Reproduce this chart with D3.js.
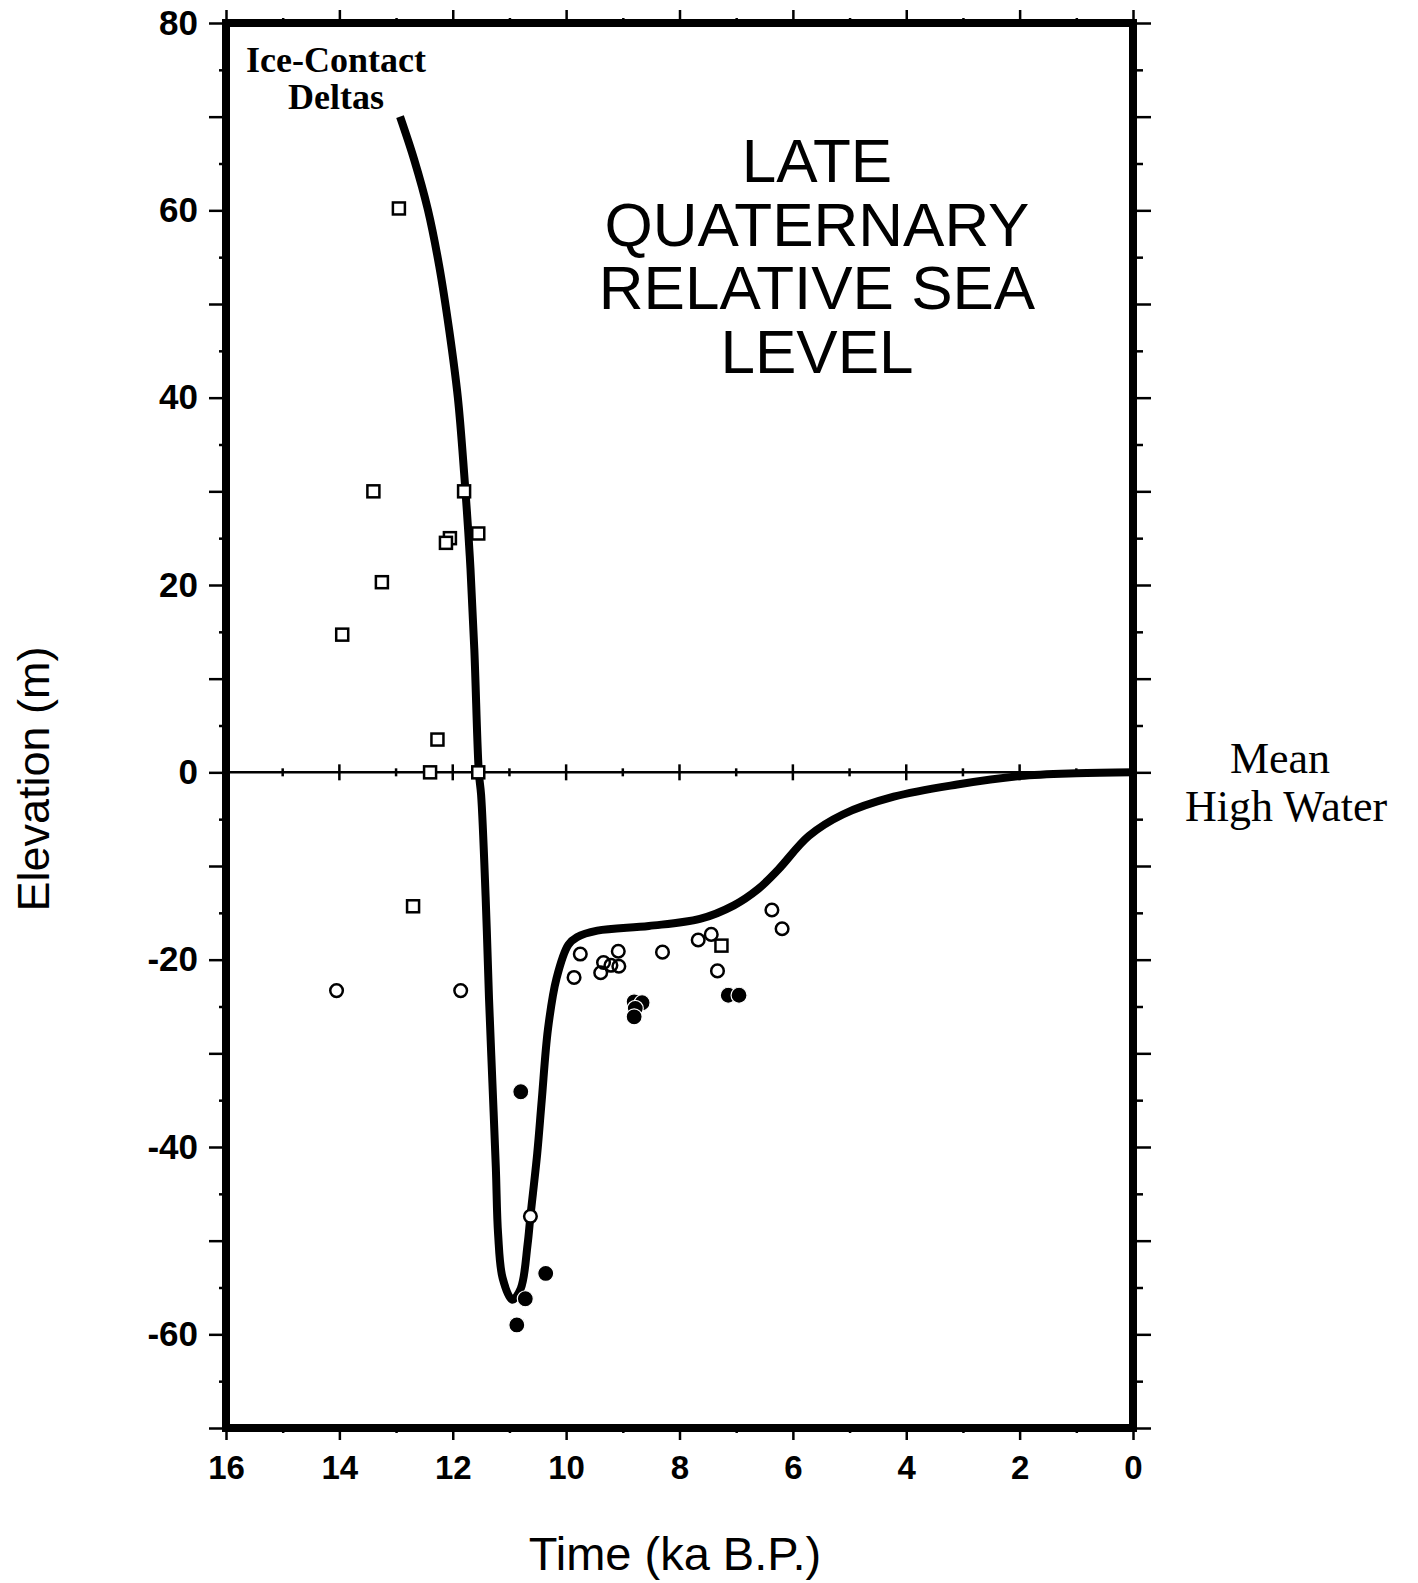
<!DOCTYPE html>
<html>
<head>
<meta charset="utf-8">
<script src="https://cdn.jsdelivr.net/npm/d3@7"></script>
<style>
  body { margin: 0; background: #fff; }
  .tick line { stroke: #000; stroke-width: 2.5; }
  .tick text { font-family: "Liberation Sans", Arial, sans-serif; font-weight: bold; fill: #000; }
  .xax .tick text { font-size: 33px; }
  .yax .tick text { font-size: 35px; }
</style>
</head>
<body>
<div id="chart"></div>
<script>
// sea level curve (ka B.P., m)
var curveTime = [12.93, 12.68, 12.44, 12.24, 12.06, 11.91, 11.80, 11.70, 11.62, 11.54, 11.50, 11.42, 11.36, 11.30, 11.24, 11.20, 11.12, 10.95, 10.80, 10.68, 10.63, 10.51, 10.43, 10.32, 10.17, 9.96, 9.81, 9.45, 8.54, 7.64, 7.04, 6.62, 6.26, 5.72, 5.12, 4.22, 3.10, 2.00, 1.00, 0.00];
var curveElev = [70.0, 65.4, 60.1, 54.1, 47.1, 40.0, 32.0, 23.1, 13.2, 0.0, -2.4, -13.3, -24.2, -33.2, -42.2, -49.3, -54.0, -56.3, -55.1, -50.4, -47.4, -40.7, -35.0, -27.4, -22.0, -18.4, -17.6, -16.9, -16.4, -15.65, -14.2, -12.5, -10.4, -6.8, -4.5, -2.6, -1.3, -0.4, -0.1, 0.0];

// open squares
var squareTime = [12.95, 13.4, 11.8, 11.55, 12.05, 12.12, 13.25, 13.95, 12.27, 12.4, 11.55, 12.7, 7.26];
var squareElev = [60.2, 30.0, 30.0, 25.5, 25.0, 24.5, 20.3, 14.7, 3.5, 0.0, 0.0, -14.3, -18.5];

// open circles
var openTime = [14.05, 11.86, 10.63, 9.75, 9.86, 9.08, 9.34, 9.39, 9.21, 9.07, 8.30, 7.67, 7.44, 7.33, 6.37, 6.19];
var openElev = [-23.3, -23.3, -47.4, -19.4, -21.9, -19.1, -20.3, -21.4, -20.6, -20.7, -19.2, -17.9, -17.3, -21.2, -14.7, -16.7];

// filled circles
var filledTime = [10.87, 10.72, 10.36, 10.80, 8.80, 8.66, 8.78, 8.80, 7.14, 6.95];
var filledElev = [-59.0, -56.2, -53.5, -34.1, -24.5, -24.6, -25.2, -26.1, -23.8, -23.8];

// ticks
var xMajor = [16, 14, 12, 10, 8, 6, 4, 2, 0];
var xMinor = [15, 13, 11, 9, 7, 5, 3, 1];
var yLabels = [80, 60, 40, 20, 0, -20, -40, -60];
var yMajor = [80, 70, 60, 50, 40, 30, 20, 10, 0, -10, -20, -30, -40, -50, -60, -70];
var yMinor = [75, 65, 55, 45, 35, 25, 15, 5, -5, -15, -25, -35, -45, -55, -65];

var titleLines = ["LATE", "QUATERNARY", "RELATIVE SEA", "LEVEL"];

var W = 1418, H = 1583;
var plotLeft = 226, plotRight = 1133, plotTop = 23, plotBottom = 1428;

var svg = d3.select("#chart").append("svg")
  .attr("width", W)
  .attr("height", H);

var x = d3.scaleLinear().domain([16, 0]).range([plotLeft, plotRight]);
var y = d3.scaleLinear().domain([-70, 80]).range([plotBottom, plotTop]);

function noDomain(g) {
  g.select(".domain").remove();
}

// bottom ticks + labels
svg.append("g")
  .attr("class", "xax")
  .attr("transform", "translate(0," + plotBottom + ")")
  .call(d3.axisBottom(x).tickValues(xMajor).tickSize(12).tickPadding(16).tickFormat(d3.format("d")))
  .call(noDomain);
svg.append("g")
  .attr("transform", "translate(0," + plotBottom + ")")
  .call(d3.axisBottom(x).tickValues(xMinor).tickSize(5).tickFormat(""))
  .call(noDomain);

// top ticks
svg.append("g")
  .attr("transform", "translate(0," + plotTop + ")")
  .call(d3.axisTop(x).tickValues(xMajor).tickSize(13).tickFormat(""))
  .call(noDomain);
svg.append("g")
  .attr("transform", "translate(0," + plotTop + ")")
  .call(d3.axisTop(x).tickValues(xMinor).tickSize(5).tickFormat(""))
  .call(noDomain);

// left ticks + labels
svg.append("g")
  .attr("class", "yax")
  .attr("transform", "translate(" + plotLeft + ",0)")
  .call(d3.axisLeft(y).tickValues(yMajor).tickSize(17).tickPadding(11).tickFormat(function(d) {
    return yLabels.indexOf(d) >= 0 ? d : "";
  }))
  .call(noDomain);
svg.append("g")
  .attr("transform", "translate(" + plotLeft + ",0)")
  .call(d3.axisLeft(y).tickValues(yMinor).tickSize(7).tickFormat(""))
  .call(noDomain);

// right ticks
svg.append("g")
  .attr("transform", "translate(" + plotRight + ",0)")
  .call(d3.axisRight(y).tickValues(yMajor).tickSize(18).tickFormat(""))
  .call(noDomain);
svg.append("g")
  .attr("transform", "translate(" + plotRight + ",0)")
  .call(d3.axisRight(y).tickValues(yMinor).tickSize(10).tickFormat(""))
  .call(noDomain);

// zero line with its own small crossing ticks
svg.append("line")
  .attr("x1", plotLeft).attr("x2", plotRight)
  .attr("y1", y(0)).attr("y2", y(0))
  .attr("stroke", "#000")
  .attr("stroke-width", 2.5);
svg.append("g").selectAll("line")
  .data(xMajor.concat(xMinor))
  .enter().append("line")
  .attr("x1", function(d) { return x(d); })
  .attr("x2", function(d) { return x(d); })
  .attr("y1", function(d) { return y(0) - (d % 2 == 0 ? 8 : 4); })
  .attr("y2", function(d) { return y(0) + (d % 2 == 0 ? 8 : 4); })
  .attr("stroke", "#000")
  .attr("stroke-width", 2.5);

// the curve
var curvePts = curveTime.map(function(t, i) { return [t, curveElev[i]]; });
var line = d3.line()
  .x(function(d) { return x(d[0]); })
  .y(function(d) { return y(d[1]); })
  .curve(d3.curveCatmullRom.alpha(0.5));

svg.append("path")
  .datum(curvePts)
  .attr("d", line)
  .attr("fill", "none")
  .attr("stroke", "#000")
  .attr("stroke-width", 8);

// frame
svg.append("rect")
  .attr("x", plotLeft).attr("y", plotTop)
  .attr("width", plotRight - plotLeft).attr("height", plotBottom - plotTop)
  .attr("fill", "none")
  .attr("stroke", "#000")
  .attr("stroke-width", 8);

// squares
var sq = 12;
svg.append("g").selectAll("rect")
  .data(squareTime)
  .enter().append("rect")
  .attr("x", function(d) { return x(d) - sq / 2; })
  .attr("y", function(d, i) { return y(squareElev[i]) - sq / 2; })
  .attr("width", sq).attr("height", sq)
  .attr("fill", "#fff")
  .attr("stroke", "#000")
  .attr("stroke-width", 2.5);

// open circles: white fill first, then the rings, so overlapping rings stay visible
var openG = svg.append("g");
openG.selectAll("circle.fill")
  .data(openTime)
  .enter().append("circle")
  .attr("class", "fill")
  .attr("cx", function(d) { return x(d); })
  .attr("cy", function(d, i) { return y(openElev[i]); })
  .attr("r", 6.3)
  .attr("fill", "#fff");
openG.selectAll("circle.ring")
  .data(openTime)
  .enter().append("circle")
  .attr("class", "ring")
  .attr("cx", function(d) { return x(d); })
  .attr("cy", function(d, i) { return y(openElev[i]); })
  .attr("r", 6.3)
  .attr("fill", "none")
  .attr("stroke", "#000")
  .attr("stroke-width", 2.5);

// filled circles
svg.append("g").selectAll("circle")
  .data(filledTime)
  .enter().append("circle")
  .attr("cx", function(d) { return x(d); })
  .attr("cy", function(d, i) { return y(filledElev[i]); })
  .attr("r", 8)
  .attr("fill", "#000")
  .attr("stroke", "#fff")
  .attr("stroke-width", 1.2);

// title
svg.append("text")
  .attr("text-anchor", "middle")
  .style("font-family", "'Liberation Sans', Arial, sans-serif")
  .style("font-size", "62px")
  .selectAll("tspan")
  .data(titleLines)
  .enter().append("tspan")
  .attr("x", 817)
  .attr("y", function(d, i) { return 182 + i * 63.6; })
  .text(function(d) { return d; });

// Ice-Contact Deltas
svg.append("text")
  .attr("text-anchor", "middle")
  .style("font-family", "'Liberation Serif', 'Times New Roman', serif")
  .style("font-weight", "bold")
  .style("font-size", "36px")
  .selectAll("tspan")
  .data(["Ice-Contact", "Deltas"])
  .enter().append("tspan")
  .attr("x", 336)
  .attr("y", function(d, i) { return 72 + i * 37; })
  .text(function(d) { return d; });

// Mean High Water
svg.append("text")
  .attr("text-anchor", "middle")
  .style("font-family", "'Liberation Serif', 'Times New Roman', serif")
  .style("font-size", "44px")
  .selectAll("tspan")
  .data(["Mean", "High Water"])
  .enter().append("tspan")
  .attr("x", function(d, i) { return i == 0 ? 1280 : 1286; })
  .attr("y", function(d, i) { return 773 + i * 48; })
  .text(function(d) { return d; });

// axis titles
svg.append("text")
  .attr("x", 675)
  .attr("y", 1570)
  .attr("text-anchor", "middle")
  .style("font-family", "'Liberation Sans', Arial, sans-serif")
  .style("font-size", "47px")
  .text("Time (ka B.P.)");

svg.append("text")
  .attr("transform", "translate(49,779) rotate(-90)")
  .attr("text-anchor", "middle")
  .style("font-family", "'Liberation Sans', Arial, sans-serif")
  .style("font-size", "45px")
  .text("Elevation (m)");
</script>
</body>
</html>
